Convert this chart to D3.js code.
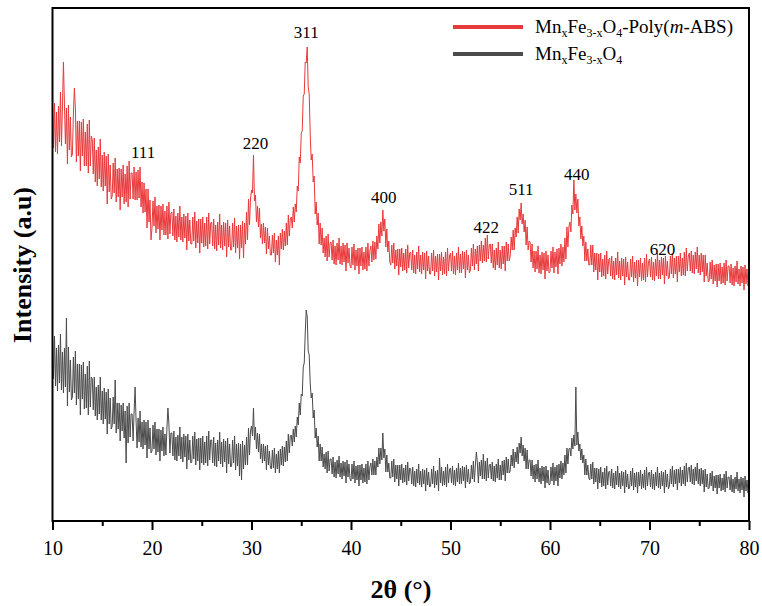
<!DOCTYPE html>
<html>
<head>
<meta charset="utf-8">
<script src="https://cdn.jsdelivr.net/npm/d3@7"></script>
<style>
  body { margin: 0; background: #fff; }
  svg { display: block; }
  text { font-family: "Liberation Serif", "Times New Roman", serif; fill: #000; }
</style>
</head>
<body>
<script>
// scan grid (2theta, degrees), one row below = 2 degrees
var scanStart = 10;
var scanStep = 0.1;

// Mn_xFe_3-xO_4-Poly(m-ABS) (a.u.)
var compositeIntensity = [
  411,372,417,368,408,366,414,378,428,374,413,458,416,376,412,356,415,370,403,363,
  366,406,432,412,358,399,364,399,349,398,364,401,354,388,354,396,347,400,354,384,
  380,346,382,338,370,334,373,341,381,333,365,329,368,334,364,316,366,328,355,321,
  324,357,327,362,318,351,323,352,310,351,323,355,316,346,318,354,313,359,321,347,
  347,321,353,320,348,320,350,322,353,313,338,307,337,308,331,292,331,298,320,280,
  292,319,294,323,287,314,291,315,280,314,290,316,285,309,285,314,281,318,286,307,
  308,284,311,280,304,278,307,283,314,280,303,278,306,282,304,270,307,279,300,276,
  276,303,279,308,272,299,277,301,267,301,277,303,273,297,274,303,271,307,276,297,
  298,274,301,271,295,269,298,275,306,272,295,270,298,274,297,263,300,273,294,270,
  270,297,273,302,267,294,272,295,261,295,272,299,262,297,276,308,280,321,295,321,
  330,327,365,319,325,298,314,293,312,282,296,276,297,277,293,266,292,271,284,265,
  265,285,267,287,258,280,265,284,255,287,271,291,270,289,274,297,275,305,284,301,
  303,292,313,298,316,308,334,329,363,357,387,389,424,426,458,457,473,433,426,386,
  360,366,338,344,306,318,295,307,276,297,275,292,267,282,263,284,259,286,263,277,
  278,260,280,256,274,255,277,260,282,256,274,255,277,258,275,249,277,257,272,254,
  252,273,255,276,250,270,254,272,246,272,254,273,250,268,251,273,249,277,254,269,
  274,258,279,260,278,261,284,271,296,277,298,284,310,289,301,273,291,268,279,258,
  255,275,257,277,251,270,254,271,245,271,253,272,249,267,250,271,247,275,252,267,
  268,250,270,247,265,246,268,251,274,248,265,246,268,250,267,241,269,249,264,246,
  246,267,249,270,244,264,248,266,240,266,249,268,245,263,246,268,244,272,249,264,
  267,249,269,246,264,245,267,250,273,247,266,247,269,251,268,242,270,250,265,247,
  250,272,254,276,250,271,256,274,249,275,259,279,257,275,259,282,258,285,261,275,
  276,257,276,252,270,250,272,255,278,252,270,251,274,256,274,249,278,259,276,259,
  264,283,270,290,270,292,283,303,287,311,300,317,296,306,288,300,275,293,270,279,
  278,258,276,252,269,248,269,251,274,247,265,246,268,250,267,241,269,249,265,247,
  248,269,252,273,247,268,253,271,246,272,256,276,254,273,258,282,261,293,273,293,
  298,288,315,306,340,310,326,307,321,294,303,281,294,274,284,259,278,259,271,255,
  255,275,255,275,248,267,250,267,240,266,248,267,243,261,244,265,241,269,246,260,
  262,244,264,241,259,240,262,245,268,242,259,240,262,244,261,235,263,243,258,240,
  240,261,243,264,238,258,242,260,234,260,243,262,239,257,240,262,238,266,243,258,
  261,243,263,240,258,239,261,244,267,241,260,241,263,245,262,236,264,244,259,241,
  243,264,246,267,242,262,246,264,238,264,248,267,244,262,245,268,244,272,249,264,
  267,249,269,247,265,246,268,251,273,247,265,245,267,248,265,238,265,244,257,238,
  239,258,241,260,236,255,239,256,233,256,239,257,236,253,237,257,235,260,239,254,
  254,237,256,235,252,234,254,238,259,236,251,234,254,237,253,230,255,236,251,234,
  245
];

// Mn_xFe_3-xO_4 (a.u.)
var ferriteIntensity = [
  181,141,184,134,172,129,175,137,186,130,168,127,172,133,202,114,173,128,160,120,
  123,163,127,169,115,156,121,156,105,155,121,158,111,146,112,154,105,159,113,143,
  141,110,143,104,133,100,135,106,143,100,129,96,132,101,128,86,131,96,122,91,
  94,123,96,140,87,117,91,117,79,115,89,117,82,109,57,114,77,117,83,106,
  106,79,108,133,99,72,102,78,109,73,98,71,100,75,98,62,100,71,92,67,
  69,95,71,98,65,91,68,91,59,90,69,93,64,86,65,92,112,96,67,87,
  87,64,89,60,83,59,85,64,93,61,83,58,86,63,84,51,86,60,80,57,
  58,84,61,88,55,81,59,82,50,82,57,84,55,78,57,84,54,89,60,80,
  80,57,83,54,77,53,80,59,88,56,78,53,81,58,79,47,82,56,76,53,
  54,80,57,84,50,76,54,77,44,76,40,79,51,75,55,83,55,92,65,89,
  94,84,112,80,93,71,87,68,86,61,76,57,76,59,74,50,75,55,69,52,
  51,70,52,72,47,66,51,69,47,71,55,74,54,73,58,79,59,86,67,84,
  85,74,91,78,94,83,103,95,117,105,126,124,153,157,187,210,203,169,165,137,
  122,127,102,110,82,92,73,84,59,76,59,73,53,66,51,68,47,69,49,61,
  61,46,63,43,58,42,60,46,64,43,57,41,59,44,58,37,60,43,56,41,
  39,56,41,59,37,54,40,55,34,55,40,56,37,52,38,56,36,59,40,53,
  57,45,61,45,59,45,63,53,72,56,72,60,87,62,71,48,65,48,57,42,
  42,59,43,61,38,55,41,55,34,55,40,56,37,52,38,55,35,58,39,52,
  51,36,53,34,49,33,51,37,56,35,49,33,51,36,50,29,52,35,48,33,
  34,51,36,54,32,49,35,50,29,62,37,53,34,49,35,53,33,56,37,50,
  52,37,54,35,50,34,52,38,57,36,52,36,54,39,53,32,55,38,51,36,
  38,55,41,59,38,55,68,57,37,58,44,60,41,66,41,59,39,62,42,55,
  56,41,58,39,54,38,56,42,61,40,55,40,59,45,60,39,63,47,61,47,
  49,65,54,71,52,68,58,73,56,77,67,83,64,75,59,72,51,70,51,60,
  60,44,60,41,55,38,56,41,60,38,52,36,54,39,53,32,54,37,50,35,
  36,53,39,57,35,53,39,55,34,56,42,59,41,57,45,65,47,72,56,71,
  72,64,82,71,85,74,133,75,88,69,76,60,71,57,65,45,61,45,55,42,
  40,56,41,58,36,52,38,52,31,51,37,53,33,48,34,52,31,54,35,48,
  49,34,51,32,47,31,49,35,54,33,47,31,49,34,48,27,50,33,46,31,
  32,49,34,52,30,47,33,48,27,48,34,50,31,46,32,50,30,53,34,47,
  48,33,50,31,46,30,48,34,53,32,47,31,49,34,48,27,50,33,46,31,
  34,51,36,54,33,50,36,51,30,51,37,53,34,50,36,54,34,57,38,52,
  53,38,55,36,51,35,53,39,57,36,51,34,52,36,50,28,51,33,46,31,
  32,47,34,49,29,44,32,45,26,45,32,46,29,42,30,46,28,49,32,43,
  43,30,45,28,41,27,43,31,48,29,41,27,43,30,42,23,44,29,40,27,
  35
];

// hkl labels and where they sit (2theta, intensity)
var peakLabels = ["111", "220", "311", "400", "422", "511", "440", "620"];
var peakAngles = [19.1, 30.4, 35.5, 43.3, 53.6, 57.1, 62.7, 71.3];
var peakHeights = [362, 371, 482, 317, 287, 325, 340, 265];

var majorTicks = [10, 20, 30, 40, 50, 60, 70, 80];
var minorTicks = [15, 25, 35, 45, 55, 65, 75];

var W = 762, H = 606;
var pLeft = 52.5, pRight = 749, pTop = 8, pBottom = 521;

var svg = d3.select('body').append('svg').attr('width', W).attr('height', H);

var x = d3.scaleLinear().domain([10, 80]).range([pLeft, pRight]);
var y = d3.scaleLinear().domain([0, 512]).range([pBottom - 1, pTop]);

function toPoints(arr){
  return arr.map(function(v, i){ return [scanStart + i * scanStep, v]; });
}

svg.append('clipPath').attr('id', 'plot')
  .append('rect').attr('x', pLeft).attr('y', pTop).attr('width', pRight - pLeft).attr('height', pBottom - pTop);

var line = d3.line()
  .x(function(d){ return x(d[0]); })
  .y(function(d){ return y(d[1]); });

var g = svg.append('g').attr('clip-path', 'url(#plot)');

g.append('path')
  .datum(toPoints(ferriteIntensity))
  .attr('d', line)
  .attr('fill', 'none')
  .attr('stroke', '#4b4b4b')
  .attr('stroke-width', 1);

g.append('path')
  .datum(toPoints(compositeIntensity))
  .attr('d', line)
  .attr('fill', 'none')
  .attr('stroke', '#e8393b')
  .attr('stroke-width', 1);

// frame
svg.append('rect')
  .attr('x', pLeft).attr('y', pTop)
  .attr('width', pRight - pLeft).attr('height', pBottom - pTop)
  .attr('fill', 'none').attr('stroke', '#000').attr('stroke-width', 2);

var xAxis = svg.append('g')
  .attr('transform', 'translate(0,' + pBottom + ')')
  .call(d3.axisBottom(x).tickValues(majorTicks).tickSize(9).tickPadding(11).tickFormat(d3.format('d')));
xAxis.select('.domain').remove();
xAxis.selectAll('line').attr('stroke-width', 2);
xAxis.selectAll('text').attr('font-size', 20).attr('font-family', '"Liberation Serif", "Times New Roman", serif');

var xMinor = svg.append('g')
  .attr('transform', 'translate(0,' + pBottom + ')')
  .call(d3.axisBottom(x).tickValues(minorTicks).tickSize(5).tickFormat(''));
xMinor.select('.domain').remove();
xMinor.selectAll('line').attr('stroke-width', 2);

// axis titles
svg.append('text')
  .attr('x', 401).attr('y', 598)
  .attr('text-anchor', 'middle')
  .attr('font-size', 26).attr('font-weight', 'bold')
  .text('2θ (°)');

svg.append('text')
  .attr('transform', 'translate(31,265) rotate(-90)')
  .attr('text-anchor', 'middle')
  .attr('font-size', 26).attr('font-weight', 'bold')
  .text('Intensity (a.u)');

// peak labels
svg.selectAll('.hkl')
  .data(peakLabels)
  .enter()
  .append('text')
  .attr('class', 'hkl')
  .attr('x', function(d, i){ return x(peakAngles[i]); })
  .attr('y', function(d, i){ return y(peakHeights[i]); })
  .attr('text-anchor', 'middle')
  .attr('font-size', 17)
  .text(function(d){ return d; });

// legend
var legendColors = ['#e8393b', '#4b4b4b'];
var legendY = [27, 54];

legendColors.forEach(function(c, i){
  svg.append('line')
    .attr('x1', 453).attr('x2', 523)
    .attr('y1', legendY[i]).attr('y2', legendY[i])
    .attr('stroke', c).attr('stroke-width', 4);
});

function formula(t, withPoly){
  t.append('tspan').text('Mn');
  t.append('tspan').attr('font-size', 12).attr('dy', 4).text('x');
  t.append('tspan').attr('dy', -4).text('Fe');
  t.append('tspan').attr('font-size', 12).attr('dy', 4).text('3-x');
  t.append('tspan').attr('dy', -4).text('O');
  t.append('tspan').attr('font-size', 12).attr('dy', 4).text('4');
  if (withPoly) {
    t.append('tspan').attr('dy', -4).text('-Poly(');
    t.append('tspan').attr('font-style', 'italic').text('m');
    t.append('tspan').text('-ABS)');
  }
}

formula(svg.append('text').attr('x', 535).attr('y', 33).attr('font-size', 19), true);
formula(svg.append('text').attr('x', 535).attr('y', 60).attr('font-size', 19), false);
</script>
</body>
</html>
